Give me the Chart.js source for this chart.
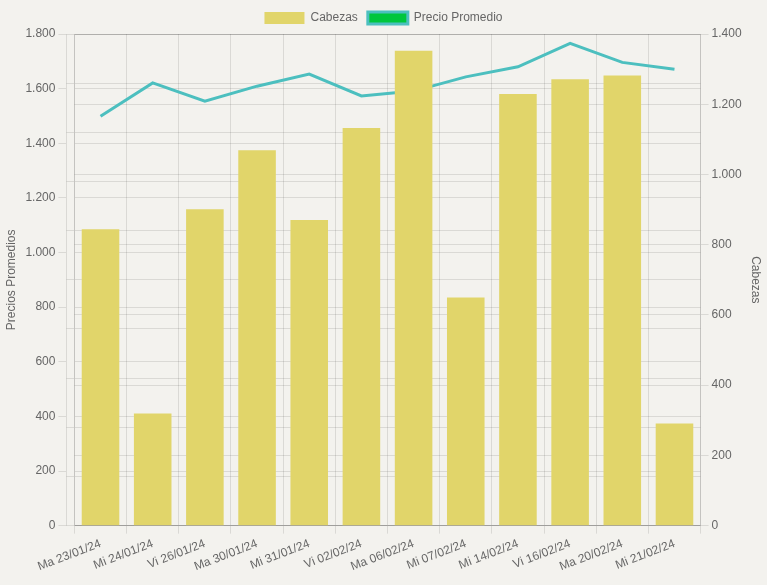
<!DOCTYPE html>
<html>
<head>
<meta charset="utf-8">
<script src="https://cdn.jsdelivr.net/npm/chart.js@4.4.1/dist/chart.umd.min.js"></script>
<style>
  html,body{margin:0;padding:0;background:#f3f2ee;}
  #wrap{width:767px;height:585px;position:relative;}
</style>
</head>
<body>
<div id="wrap"><canvas id="chart-remates"></canvas></div>
<script>
const fechas = ["Ma 23/01/24","Mi 24/01/24","Vi 26/01/24","Ma 30/01/24","Mi 31/01/24","Vi 02/02/24","Ma 06/02/24","Mi 07/02/24","Mi 14/02/24","Vi 16/02/24","Ma 20/02/24","Mi 21/02/24"];
const cabezas = [844,319,901,1069,870,1132,1352,650,1229,1271,1282,291];
const precios = [1499,1621,1554,1609,1653,1573,1591,1643,1680,1766,1696,1671];

Chart.defaults.color = "#666";
Chart.defaults.font.size = 12;

const ctx = document.getElementById("chart-remates").getContext("2d");
const chart = new Chart(ctx,{
  type:"bar",
  data:{
    labels:fechas,
    datasets:[
      {label:"Cabezas",data:cabezas,backgroundColor:"#e1d56a",yAxisID:"yCab"},
      {label:"Precio Promedio",type:"line",data:precios,borderColor:"#4cbfbf",backgroundColor:"#00c63c",
        borderWidth:3,pointRadius:0,tension:0,fill:false,yAxisID:"yPre"}
    ]
  },
  options:{
    responsive:true,maintainAspectRatio:false,animation:false,locale:"de-DE",
    layout:{padding:{top:2,bottom:8}},
    plugins:{legend:{position:"top"},tooltip:{enabled:true}},
    scales:{
      x:{ticks:{color:"#666",minRotation:21,maxRotation:21}},
      y:{position:"left",ticks:{display:false}},
      yPre:{position:"left",beginAtZero:true,title:{display:true,text:"Precios Promedios"}},
      yCab:{position:"right",beginAtZero:true,title:{display:true,text:"Cabezas"}}
    }
  }
});
</script>
</body>
</html>
